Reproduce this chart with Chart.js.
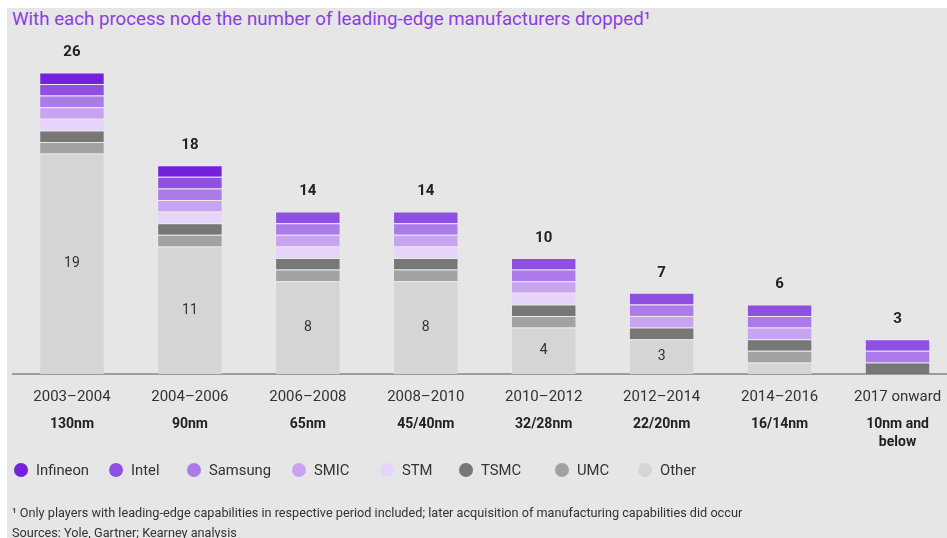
<!DOCTYPE html>
<html>
<head>
<meta charset="utf-8">
<script src="https://cdn.jsdelivr.net/npm/chart.js@4"></script>
<style>
  html, body { margin: 0; padding: 0; background: #ffffff; width: 947px; height: 538px; overflow: hidden; }
  #panel { position: absolute; left: 7px; top: 8px; width: 940px; height: 530px; background: #e6e6e6; }
  #wrap { position: absolute; left: 0; top: 0; width: 960px; height: 538px; }
  #title { position: absolute; left: 12px; top: 8px; font-family: Roboto, sans-serif; font-size: 18.7px; color: #8a3ee0; white-space: nowrap; }
  #legend { position: absolute; left: 0; top: 461px; height: 18px; width: 947px; font-family: Roboto, sans-serif; font-size: 14.8px; color: #333; }
  .li { position: absolute; top: 0; display: flex; align-items: center; height: 18px; white-space: nowrap; }
  .dot { width: 14px; height: 14px; border-radius: 50%; margin-right: 8px; }
  .foot { position: absolute; left: 12px; font-family: Roboto, sans-serif; font-size: 12.7px; color: #333; white-space: nowrap; }
</style>
</head>
<body>
<div id="panel"></div>
<div id="title">With each process node the number of leading-edge manufacturers dropped¹</div>
<div id="wrap"><canvas id="c" width="960" height="538"></canvas></div>
<div id="legend"></div>
<div class="foot" style="top:505px">¹ Only players with leading-edge capabilities in respective period included; later acquisition of manufacturing capabilities did occur</div>
<div class="foot" style="top:525px">Sources: Yole, Gartner; Kearney analysis</div>
<script>
// ---- data ----
const periods = ["2003–2004", "2004–2006", "2006–2008", "2008–2010", "2010–2012", "2012–2014", "2014–2016", "2017 onward"];
const nodes = [["130nm"], ["90nm"], ["65nm"], ["45/40nm"], ["32/28nm"], ["22/20nm"], ["16/14nm"], ["10nm and", "below"]];
const other    = [19, 11, 8, 8, 4, 3, 1, 0];
const umc      = [1, 1, 1, 1, 1, 0, 1, 0];
const tsmc     = [1, 1, 1, 1, 1, 1, 1, 1];
const stm      = [1, 1, 1, 1, 1, 0, 0, 0];
const smic     = [1, 1, 1, 1, 1, 1, 1, 0];
const samsung  = [1, 1, 1, 1, 1, 1, 1, 1];
const intel    = [1, 1, 1, 1, 1, 1, 1, 1];
const infineon = [1, 1, 0, 0, 0, 0, 0, 0];

// ---- styling / layout ----
const series = [
  { name: "Other",    data: other,    color: "#d5d5d5" },
  { name: "UMC",      data: umc,      color: "#a2a2a2" },
  { name: "TSMC",     data: tsmc,     color: "#777777" },
  { name: "STM",      data: stm,      color: "#e6d4fa" },
  { name: "SMIC",     data: smic,     color: "#c8a4f0" },
  { name: "Samsung",  data: samsung,  color: "#ad7ae9" },
  { name: "Intel",    data: intel,    color: "#8f4fe0" },
  { name: "Infineon", data: infineon, color: "#7520dc" }
];
const legendOrder = ["Infineon", "Intel", "Samsung", "SMIC", "STM", "TSMC", "UMC", "Other"];
const legendX = [14, 109, 187, 292, 380, 459, 555, 638];

const legendEl = document.getElementById('legend');
legendOrder.forEach((n, i) => {
  const s = series.find(d => d.name === n);
  const el = document.createElement('div');
  el.className = 'li';
  el.style.left = legendX[i] + 'px';
  el.innerHTML = '<span class="dot" style="background:' + s.color + '"></span>' + n;
  legendEl.appendChild(el);
});

const totals = periods.map((_, i) => series.reduce((a, s) => a + s.data[i], 0));

const labelPlugin = {
  id: 'labels',
  afterDraw(chart) {
    const ctx = chart.ctx;
    const x = chart.scales.x, y = chart.scales.y;
    ctx.save();
    ctx.textAlign = 'center';
    ctx.textBaseline = 'middle';
    periods.forEach((p, i) => {
      const cx = x.getPixelForValue(i);
      ctx.fillStyle = '#222';
      ctx.font = 'bold 15px Roboto, sans-serif';
      ctx.fillText(String(totals[i]), cx, y.getPixelForValue(totals[i]) - 20);
      if (other[i] > 1) {
        ctx.font = '14px Roboto, sans-serif';
        ctx.fillStyle = '#333';
        ctx.fillText(String(other[i]), cx, y.getPixelForValue(other[i] / 2));
      }
      ctx.font = '15px Roboto, sans-serif';
      ctx.fillStyle = '#333';
      ctx.fillText(p, cx, 397);
      ctx.font = 'bold 14px Roboto, sans-serif';
      ctx.fillStyle = '#222';
      nodes[i].forEach((ln, k) => ctx.fillText(ln, cx, 424 + k * 18));
    });
    ctx.restore();
  }
};

new Chart(document.getElementById('c'), {
  type: 'bar',
  data: {
    labels: periods,
    datasets: series.map(s => ({
      label: s.name,
      data: s.data,
      backgroundColor: s.color,
      borderColor: 'rgba(255,255,255,0.12)',
      borderWidth: c => (c.raw ? 1 : 0),
      barPercentage: 0.555,
      categoryPercentage: 1
    }))
  },
  options: {
    responsive: false,
    animation: false,
    layout: { padding: { left: 13, right: 3.5, top: 26, bottom: 156 } },
    plugins: { legend: { display: false }, tooltip: { enabled: false } },
    scales: {
      x: {
        stacked: true,
        grid: { display: false },
        ticks: { display: false },
        border: { display: true, color: '#9c9c9c', width: 2 }
      },
      y: {
        stacked: true,
        display: false,
        min: 0,
        max: 30
      }
    }
  },
  plugins: [labelPlugin]
});
</script>
</body>
</html>
